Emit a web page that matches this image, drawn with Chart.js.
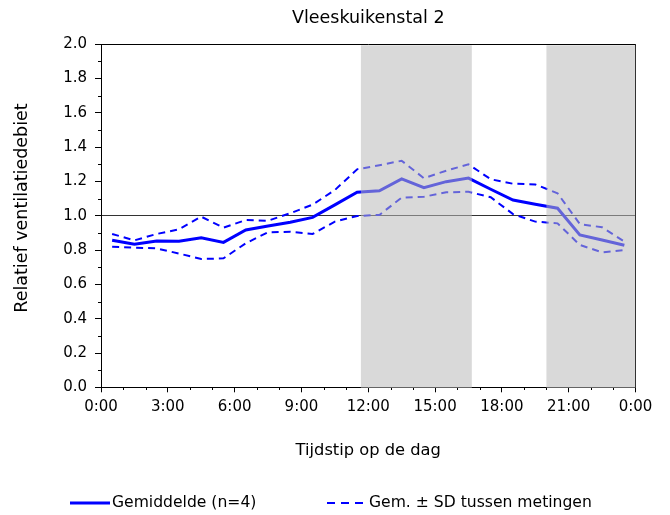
<!DOCTYPE html>
<html>
<head>
<meta charset="utf-8">
<script src="https://cdn.jsdelivr.net/npm/chart.js@4.4.1/dist/chart.umd.min.js"></script>
<style>
  body { margin: 0; background: #fff; }
</style>
</head>
<body>
<canvas id="ventChart" width="670" height="515"></canvas>
<script>
// uurgemiddelden, geplot midden in elk uur
const hours = [0.5, 1.5, 2.5, 3.5, 4.5, 5.5, 6.5, 7.5, 8.5, 9.5, 10.5, 11.5,
               12.5, 13.5, 14.5, 15.5, 16.5, 17.5, 18.5, 19.5, 20.5, 21.5, 22.5, 23.5];
const gemiddelde = [0.857, 0.834, 0.853, 0.851, 0.872, 0.845, 0.917, 0.940, 0.962, 0.991, 1.064, 1.137,
                    1.146, 1.215, 1.164, 1.199, 1.220, 1.155, 1.092, 1.067, 1.044, 0.888, 0.859, 0.828];
const gemPlusSd = [0.894, 0.857, 0.894, 0.921, 0.995, 0.931, 0.975, 0.971, 1.015, 1.065, 1.150, 1.271,
                   1.295, 1.321, 1.219, 1.263, 1.300, 1.213, 1.187, 1.183, 1.131, 0.952, 0.933, 0.850];
const gemMinSd = [0.820, 0.814, 0.810, 0.780, 0.748, 0.752, 0.840, 0.904, 0.907, 0.894, 0.966, 0.999,
                  1.005, 1.106, 1.111, 1.137, 1.140, 1.108, 1.010, 0.966, 0.956, 0.830, 0.787, 0.800];

const xTicks = [0, 3, 6, 9, 12, 15, 18, 21, 24];
const xTickLabels = ['0:00', '3:00', '6:00', '9:00', '12:00', '15:00', '18:00', '21:00', '0:00'];
const yTicks = [0, 0.2, 0.4, 0.6, 0.8, 1.0, 1.2, 1.4, 1.6, 1.8, 2.0];

// grijze periodes (uur van de dag)
const greyBands = [[11.67, 16.65], [20, 24]];

const FONT = 'DejaVu Sans';
const BLUE = '#0000ff';
const TITLE = 'Vleeskuikenstal 2';
const Y_TITLE = 'Relatief ventilatiedebiet';

const chartDecor = {
    id: 'chartDecor',
    beforeDatasetsDraw(chart) {
        const { ctx, chartArea: a, scales: { x, y } } = chart;
        ctx.save();
        ctx.strokeStyle = '#000';
        ctx.lineWidth = 1;
        ctx.beginPath();
        // rechterrand
        ctx.moveTo(Math.round(a.right) - 0.5, a.top);
        ctx.lineTo(Math.round(a.right) - 0.5, a.bottom);
        // kleine streepjes x-as (elk uur)
        for (let h = 1; h < 24; h++) {
            if (h % 3 === 0) continue;
            const px = Math.round(x.getPixelForValue(h)) + 0.5;
            ctx.moveTo(px, Math.round(a.bottom));
            ctx.lineTo(px, Math.round(a.bottom) + 3);
        }
        // kleine streepjes y-as (elke 0.1)
        for (let i = 1; i < 20; i += 2) {
            const py = Math.round(y.getPixelForValue(i / 10)) + 0.5;
            ctx.moveTo(Math.round(a.left), py);
            ctx.lineTo(Math.round(a.left) - 3, py);
        }
        ctx.stroke();
        ctx.restore();
    },
    afterDatasetsDraw(chart) {
        const { ctx, chartArea: a, scales: { x } } = chart;
        ctx.save();
        ctx.fillStyle = 'rgba(185, 185, 185, 0.54)';
        greyBands.forEach(([from, to]) => {
            const x0 = x.getPixelForValue(from);
            const x1 = x.getPixelForValue(to);
            ctx.fillRect(x0, a.top + 1, x1 - x0, Math.round(a.bottom) + 1 - a.top - 1);
        });
        ctx.restore();
    },
    afterDraw(chart) {
        const { ctx, chartArea: a } = chart;
        ctx.save();
        // bovenrand
        ctx.strokeStyle = '#000';
        ctx.lineWidth = 1;
        ctx.beginPath();
        ctx.moveTo(a.left, Math.round(a.top) + 0.5);
        ctx.lineTo(a.right, Math.round(a.top) + 0.5);
        ctx.stroke();

        // titel, gecentreerd boven het plotvlak
        ctx.fillStyle = '#000';
        ctx.textBaseline = 'middle';
        ctx.textAlign = 'center';
        ctx.font = '17.5px "' + FONT + '"';
        ctx.fillText(TITLE, (a.left + a.right) / 2, 18);

        // y-as titel
        ctx.save();
        ctx.translate(22, 208);
        ctx.rotate(-Math.PI / 2);
        ctx.font = '17.5px "' + FONT + '"';
        ctx.fillText(Y_TITLE, 0, 0);
        ctx.restore();

        // legenda
        const ly = 503;
        ctx.strokeStyle = BLUE;
        ctx.lineWidth = 3;
        ctx.beginPath();
        ctx.moveTo(70, ly);
        ctx.lineTo(110, ly);
        ctx.stroke();
        ctx.lineWidth = 2;
        ctx.setLineDash([8, 6]);
        ctx.beginPath();
        ctx.moveTo(327, ly);
        ctx.lineTo(364, ly);
        ctx.stroke();
        ctx.setLineDash([]);
        ctx.font = '15.6px "' + FONT + '"';
        ctx.textAlign = 'left';
        ctx.fillText('Gemiddelde (n=4)', 112, ly);
        ctx.fillText('Gem. \u00b1 SD tussen metingen', 369, ly);
        ctx.restore();
    }
};

const toPoints = (vals) => vals.map((v, i) => ({ x: hours[i], y: v }));

new Chart(document.getElementById('ventChart').getContext('2d'), {
    type: 'line',
    data: {
        datasets: [
            {
                label: 'Gem. - SD',
                data: toPoints(gemMinSd),
                borderColor: BLUE,
                borderWidth: 2,
                borderDash: [7, 5],
                pointRadius: 0,
                fill: false
            },
            {
                label: 'Gem. + SD',
                data: toPoints(gemPlusSd),
                borderColor: BLUE,
                borderWidth: 2,
                borderDash: [7, 5],
                pointRadius: 0,
                fill: false
            },
            {
                label: 'Gemiddelde (n=4)',
                data: toPoints(gemiddelde),
                borderColor: BLUE,
                borderWidth: 3,
                pointRadius: 0,
                fill: false
            }
        ]
    },
    options: {
        responsive: false,
        animation: false,
        layout: { padding: { left: 0, right: 34.5, top: 44.3, bottom: 50 } },
        plugins: {
            legend: { display: false },
            tooltip: { enabled: false },
            title: { display: false }
        },
        scales: {
            x: {
                type: 'linear',
                min: 0,
                max: 24,
                afterBuildTicks: (scale) => { scale.ticks = xTicks.map(v => ({ value: v })); },
                afterFit: (scale) => { scale.height = 77.7; },
                ticks: {
                    color: '#000',
                    font: { family: FONT, size: 15 },
                    padding: 6,
                    maxRotation: 0,
                    autoSkip: false,
                    callback: (v, i) => xTickLabels[i]
                },
                grid: {
                    drawOnChartArea: false,
                    tickLength: 5,
                    tickColor: '#000'
                },
                border: { color: '#000', width: 1 },
                title: {
                    display: true,
                    text: 'Tijdstip op de dag',
                    color: '#000',
                    font: { family: FONT, size: 16.3 },
                    padding: { top: 0, bottom: 4 }
                }
            },
            y: {
                min: 0,
                max: 2,
                afterBuildTicks: (scale) => { scale.ticks = yTicks.map(v => ({ value: v })); },
                afterFit: (scale) => { scale.width = 101; },
                ticks: {
                    color: '#000',
                    font: { family: FONT, size: 15 },
                    padding: 8,
                    callback: (v) => v.toFixed(1)
                },
                grid: {
                    color: (c) => (c.tick && c.tick.value === 1 ? '#333' : 'rgba(0,0,0,0)'),
                    lineWidth: 1,
                    tickLength: 6,
                    tickColor: '#000'
                },
                border: { color: '#000', width: 1 }
            }
        }
    },
    plugins: [chartDecor]
});
</script>
</body>
</html>
